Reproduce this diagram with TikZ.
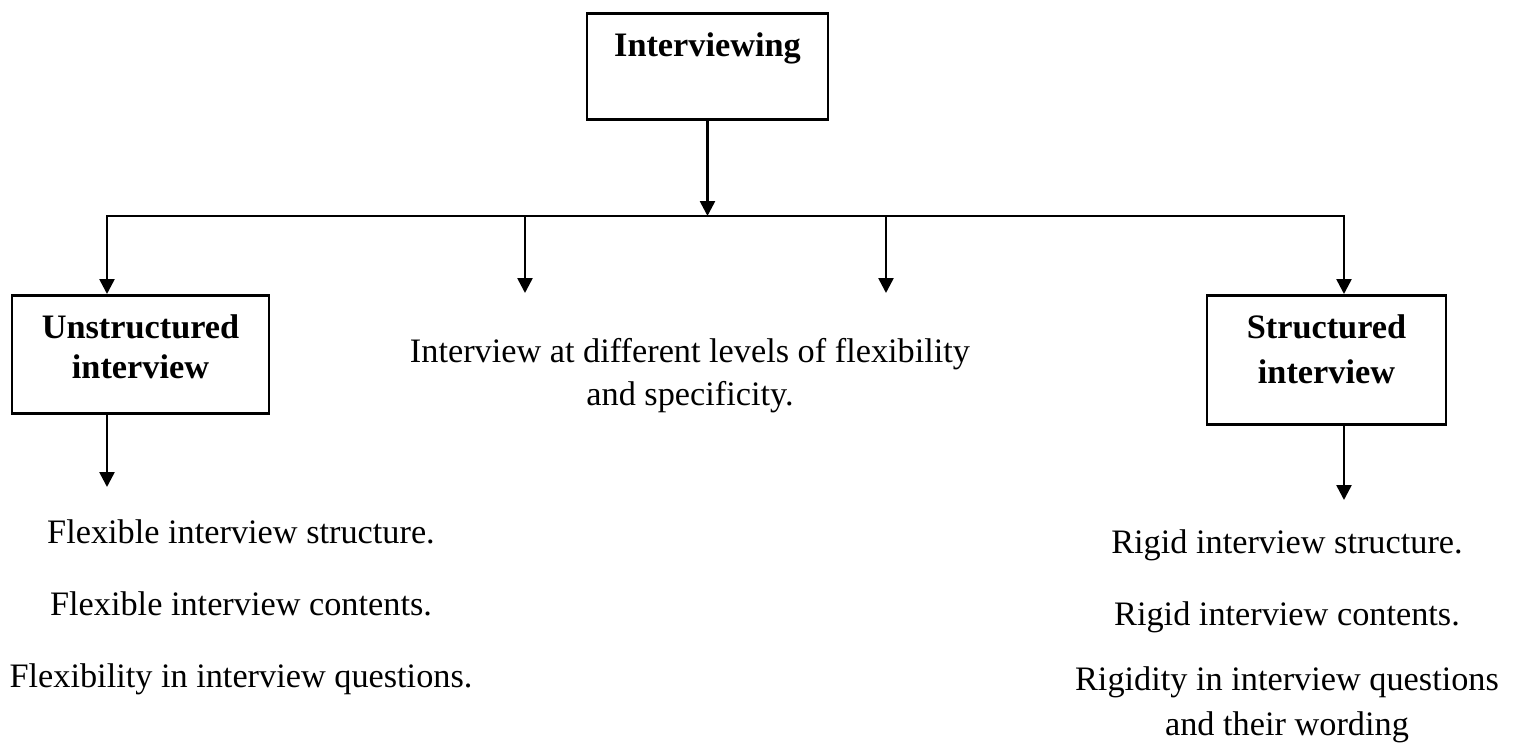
\documentclass[tikz,border=0pt]{standalone}
\usepackage{fontspec}
\setmainfont{Liberation Serif}
\usetikzlibrary{arrows.meta,positioning}
\tikzset{
  box/.style={draw=black,line width=0.9pt,inner sep=0pt,align=center,anchor=north,font=\bfseries\fontsize{12}{14}\selectfont},
  txt/.style={inner sep=0pt,align=center,anchor=base,font=\fontsize{12}{15}\selectfont},
  arr/.style={-{Triangle[length=5.2pt,width=5.2pt]},draw=black,line width=0.9pt},
  bar/.style={draw=black,line width=0.9pt,line cap=rect}
}

\begin{document}
\begin{tikzpicture}[x=0.35pt,y=-0.35pt]
  \useasboundingbox (0,0) rectangle (1517,754);

  % boxes
  \node[box,minimum width=84.35pt,text height=15.05pt,text depth=22.05pt] (intv) at (707.5,12) {Interviewing};
  \node[box,minimum width=89.95pt,text height=29.05pt,text depth=12.25pt] (unstr) at (140.5,294) {Unstructured\\interview};
  \node[box,minimum width=83.65pt,text height=30.8pt,text depth=14.35pt,font=\bfseries\fontsize{12}{15.75}\selectfont] (str) at (1326.5,294) {Structured\\interview};

  % texts
  \node[txt] (mid) at (690,405) {Interview at different levels of flexibility\\and specificity.};
  \node[txt] (flexA) at (241,543) {Flexible interview structure.};
  \node[txt] (flexB) at (241,615) {Flexible interview contents.};
  \node[txt] (flexC) at (241,687) {Flexibility in interview questions.};
  \node[txt] (rigA) at (1287,553) {Rigid interview structure.};
  \node[txt] (rigB) at (1287,625) {Rigid interview contents.};
  \node[txt,font=\fontsize{12}{15.75}\selectfont] (rigC) at (1287,735) {Rigidity in interview questions\\and their wording};

  \coordinate (barL) at (107,216);
  \coordinate (barR) at (1344,216);
  \coordinate (midL) at (525,293);
  \coordinate (midR) at (886,293);
  \coordinate (lowL) at (107,487);
  \coordinate (lowR) at (1344,500);

  % connectors
  \draw[bar] (barL) -- (barR);
  \draw[arr] (intv) -- (intv |- barL);
  \draw[arr] (barL) -- (barL |- unstr.north);
  \draw[arr] (barL -| midL) -- (midL);
  \draw[arr] (barL -| midR) -- (midR);
  \draw[arr] (barR) -- (barR |- str.north);
  \draw[arr] (barL |- unstr.south) -- (lowL);
  \draw[arr] (barR |- str.south) -- (lowR);
\end{tikzpicture}
\end{document}
